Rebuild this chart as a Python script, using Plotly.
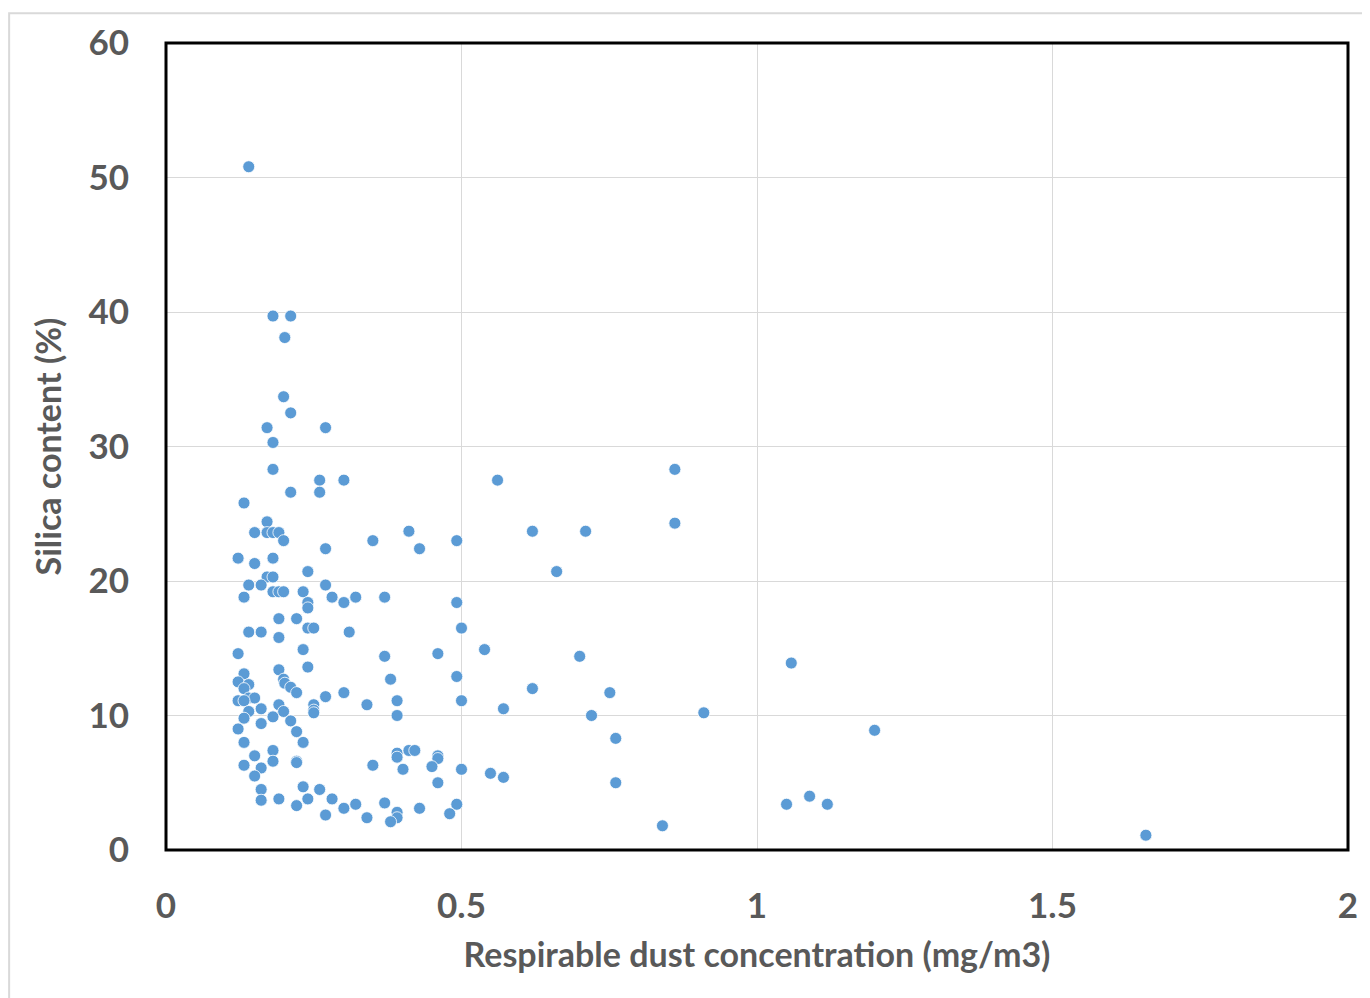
import plotly.graph_objects as go

# Respirable dust concentration (mg/m3)
dust = [0.140, 0.181, 0.211, 0.201, 0.199, 0.211, 0.171, 0.270, 0.181, 0.181,
        0.861, 0.260, 0.301, 0.561, 0.211, 0.260, 0.132, 0.171, 0.861, 0.150,
        0.171, 0.181, 0.191, 0.411, 0.620, 0.710, 0.199, 0.350, 0.492, 0.270,
        0.429, 0.122, 0.181, 0.150, 0.240, 0.661, 0.171, 0.181, 0.140, 0.161,
        0.270, 0.181, 0.191, 0.199, 0.232, 0.132, 0.281, 0.321, 0.370, 0.240,
        0.301, 0.492, 0.240, 0.191, 0.221, 0.240, 0.250, 0.500, 0.140, 0.161,
        0.310, 0.191, 0.232, 0.539, 0.122, 0.460, 0.370, 0.700, 1.058, 0.240,
        0.191, 0.132, 0.492, 0.380, 0.199, 0.122, 0.201, 0.140, 0.211, 0.132,
        0.620, 0.221, 0.301, 0.751, 0.270, 0.140, 0.150, 0.122, 0.132, 0.391,
        0.500, 0.340, 0.191, 0.250, 0.571, 0.161, 0.250, 0.199, 0.140, 0.250,
        0.910, 0.391, 0.720, 0.181, 0.132, 0.161, 0.211, 0.122, 1.199, 0.221,
        0.232, 0.132, 0.761, 0.181, 0.391, 0.411, 0.421, 0.460, 0.150, 0.391,
        0.460, 0.181, 0.221, 0.221, 0.132, 0.350, 0.450, 0.161, 0.401, 0.500,
        0.549, 0.150, 0.571, 0.460, 0.761, 0.161, 0.232, 0.260, 1.089, 0.240,
        0.281, 0.191, 0.161, 0.370, 0.221, 0.321, 0.492, 1.050, 1.119, 0.301,
        0.429, 0.270, 0.480, 0.391, 0.340, 0.391, 0.380, 0.840, 1.658]

# Silica content (%)
silica = [50.8, 39.7, 39.7, 38.1, 33.7, 32.5, 31.4, 31.4, 30.3, 28.3,
          28.3, 27.5, 27.5, 27.5, 26.6, 26.6, 25.8, 24.4, 24.3, 23.6,
          23.6, 23.6, 23.6, 23.7, 23.7, 23.7, 23.0, 23.0, 23.0, 22.4,
          22.4, 21.7, 21.7, 21.3, 20.7, 20.7, 20.3, 20.3, 19.7, 19.7,
          19.7, 19.2, 19.2, 19.2, 19.2, 18.8, 18.8, 18.8, 18.8, 18.4,
          18.4, 18.4, 18.0, 17.2, 17.2, 16.5, 16.5, 16.5, 16.2, 16.2,
          16.2, 15.8, 14.9, 14.9, 14.6, 14.6, 14.4, 14.4, 13.9, 13.6,
          13.4, 13.1, 12.9, 12.7, 12.7, 12.5, 12.4, 12.3, 12.1, 12.0,
          12.0, 11.7, 11.7, 11.7, 11.4, 11.3, 11.3, 11.1, 11.1, 11.1,
          11.1, 10.8, 10.8, 10.8, 10.5, 10.5, 10.4, 10.3, 10.3, 10.2,
          10.2, 10.0, 10.0, 9.9, 9.8, 9.4, 9.6, 9.0, 8.9, 8.8,
          8.0, 8.0, 8.3, 7.4, 7.2, 7.4, 7.4, 7.0, 7.0, 6.9,
          6.8, 6.6, 6.6, 6.5, 6.3, 6.3, 6.2, 6.1, 6.0, 6.0,
          5.7, 5.5, 5.4, 5.0, 5.0, 4.5, 4.7, 4.5, 4.0, 3.8,
          3.8, 3.8, 3.7, 3.5, 3.3, 3.4, 3.4, 3.4, 3.4, 3.1,
          3.1, 2.6, 2.7, 2.8, 2.4, 2.4, 2.1, 1.8, 1.1]

x_ticks = [0, 0.5, 1, 1.5, 2]
x_tick_labels = ["0", "0.5", "1", "1.5", "2"]
y_ticks = [0, 10, 20, 30, 40, 50, 60]
y_tick_labels = ["0", "10", "20", "30", "40", "50", "60"]

# page has an 8px body margin: the figure starts at page (8, 8)
W, H = 1362, 990
L, T = 158, 31
pw, ph = 1183, 811
R = W - L - pw
B = H - T - ph

fig = go.Figure()
fig.add_trace(go.Scatter(
    x=dust, y=silica, mode="markers",
    marker=dict(size=12, color="#5B9BD5", line=dict(width=1, color="rgba(255,255,255,0.8)")),
    cliponaxis=False, showlegend=False, hoverinfo="x+y"))

tick_font = dict(family="Lato, Carlito, sans-serif", size=35, color="#595959", weight="bold")
title_font = dict(family="Lato, Carlito, sans-serif", size=34, color="#595959", weight="bold")

fig.update_xaxes(
    range=[0, 2], tickvals=x_ticks, ticktext=x_tick_labels,
    showgrid=True, gridcolor="#D9D9D9", gridwidth=1,
    zeroline=False, showline=False,
    ticks="outside", ticklen=25, tickcolor="rgba(0,0,0,0)",
    tickfont=tick_font,
    title=dict(text="Respirable dust concentration (mg/m3)", font=title_font, standoff=19))
fig.update_yaxes(
    range=[0, 60], tickvals=y_ticks, ticktext=y_tick_labels,
    showgrid=True, gridcolor="#D9D9D9", gridwidth=1,
    zeroline=False, showline=False,
    ticks="outside", ticklen=29, tickcolor="rgba(0,0,0,0)",
    tickfont=tick_font,
    title=dict(text="Silica content (%)", font=title_font, standoff=16))

# plot-area frame
fig.add_shape(type="rect", xref="paper", yref="paper", x0=0, y0=0, x1=1, y1=1,
              line=dict(color="black", width=3), layer="above")
# outer chart border (left, top, right edges)
bx0 = (1 - L) / pw
bx1 = (1360 - L) / pw
by1 = (ph + T - 1) / ph
by0 = -(B + 10) / ph
fig.add_shape(type="rect", xref="paper", yref="paper",
              x0=bx0, x1=bx1, y0=by0, y1=by1,
              line=dict(color="#D9D9D9", width=2), layer="below")

fig.update_layout(
    width=W, height=H,
    margin=dict(l=L, r=R, t=T, b=B),
    paper_bgcolor="white", plot_bgcolor="white",
    showlegend=False)

fig.write_html("out.html")
